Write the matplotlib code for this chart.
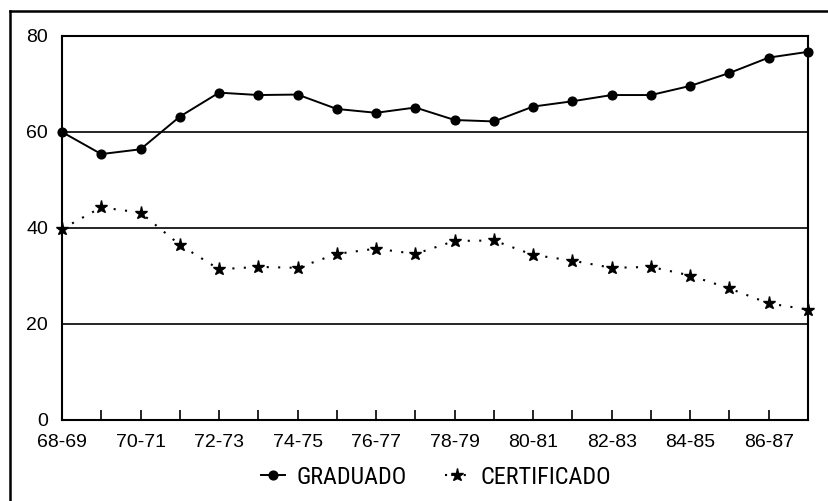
import matplotlib
matplotlib.use('Agg')
import matplotlib.pyplot as plt
from matplotlib import font_manager
from matplotlib.font_manager import FontProperties
from matplotlib.lines import Line2D

# ---- data ----
seasons = ['68-69', '69-70', '70-71', '71-72', '72-73', '73-74', '74-75',
           '75-76', '76-77', '77-78', '78-79', '79-80', '80-81', '81-82',
           '82-83', '83-84', '84-85', '85-86', '86-87', '87-88']
graduado = [60.0, 55.4, 56.4, 63.2, 68.2, 67.7, 67.8, 64.8, 64.0, 65.1,
            62.5, 62.2, 65.3, 66.4, 67.7, 67.7, 69.6, 72.3, 75.5, 76.7]
certificado = [39.8, 44.3, 43.2, 36.5, 31.4, 31.9, 31.7, 34.6, 35.7, 34.6,
               37.3, 37.4, 34.4, 33.2, 31.7, 31.9, 30.1, 27.4, 24.3, 23.0]
y_ticks = [0, 20, 40, 60, 80]
series_names = ['GRADUADO', 'CERTIFICADO']

names = {f.name for f in font_manager.fontManager.ttflist}
base = 'Liberation Sans' if 'Liberation Sans' in names else 'DejaVu Sans'
plt.rcParams['font.family'] = [base, 'DejaVu Sans']

# look for a condensed sans face for the legend (tall, narrow lettering)
def find_condensed():
    prefs = ['Liberation Sans Narrow', 'Roboto Condensed', 'Open Sans Condensed',
             'Noto Sans', 'Open Sans', 'Roboto', 'DejaVu Sans']
    cands = []
    for f in font_manager.fontManager.ttflist:
        st = str(f.stretch)
        condensed = ('Narrow' in f.name or 'Condensed' in f.name
                     or st in ('condensed', 'semi-condensed'))
        if condensed and f.style == 'normal' and f.weight in (400, 'normal', 'regular'):
            if 'Mono' in f.name or 'Serif' in f.name:
                continue
            rank = prefs.index(f.name) if f.name in prefs else len(prefs)
            cands.append((rank, f.fname))
    if cands:
        cands.sort()
        return FontProperties(fname=cands[0][1])
    return FontProperties(family=[base, 'DejaVu Sans'])

legend_fp = find_condensed()

W, H = 829, 501
fig = plt.figure(figsize=(W / 100, H / 100), dpi=100)
ax = fig.add_axes([62 / W, 1 - 420 / H, (808 - 62) / W, (420 - 36) / H])

x = list(range(len(seasons)))
ax.plot(x, graduado, color='black', lw=1.4, marker='o', ms=6.3,
        clip_on=False, zorder=4)
ax.plot(x, certificado, color='black', lw=1.5, ls=(0, (1, 4.5)),
        marker='*', ms=9.5, clip_on=False, zorder=4)

ax.set_xlim(0, len(seasons) - 1)
ax.set_ylim(0, 80)
for v in y_ticks[1:-1]:
    ax.axhline(v, color='black', lw=1.2, zorder=1)

ax.set_yticks(y_ticks)
ax.set_yticklabels([str(v) for v in y_ticks], fontsize=14)
ax.tick_params(axis='y', length=0, pad=10)

ax.set_xticks(x)
ax.set_xticklabels([s if i % 2 == 0 else '' for i, s in enumerate(seasons)],
                   fontsize=14)
ax.tick_params(axis='x', direction='in', length=7, width=1.2, pad=10)

for sp in ax.spines.values():
    sp.set_linewidth(1.5)
    sp.set_color('black')

# choose legend font size so that "GRADUADO" is about 111 px wide
fig.canvas.draw()
renderer = fig.canvas.get_renderer()
probe = fig.text(0, 0, series_names[0], fontproperties=legend_fp, fontsize=16)
wpx = probe.get_window_extent(renderer).width
probe.remove()
leg_size = max(12.0, min(18.0, 16 * 111.0 / wpx))
legend_fp.set_size(leg_size)

handles = [
    Line2D([], [], color='black', lw=1.4, marker='o', ms=6.3),
    Line2D([], [], color='black', lw=1.5, ls=(0, (1, 2)), marker='*', ms=9.5),
]
fig.legend(handles, series_names, loc='center', ncol=2,
           bbox_to_anchor=(436 / W, 1 - 477 / H), frameon=False,
           handlelength=1.0, handletextpad=0.45, columnspacing=1.6,
           prop=legend_fp)

# outer frame (top and left edges of the scanned box)
fig.add_artist(Line2D([10 / W, 1.0], [1 - 11 / H, 1 - 11 / H],
                      transform=fig.transFigure, color='black', lw=1.8))
fig.add_artist(Line2D([10 / W, 10 / W], [1 - 11 / H, 0.0],
                      transform=fig.transFigure, color='black', lw=1.8))

fig.savefig('out.png', dpi=100)
